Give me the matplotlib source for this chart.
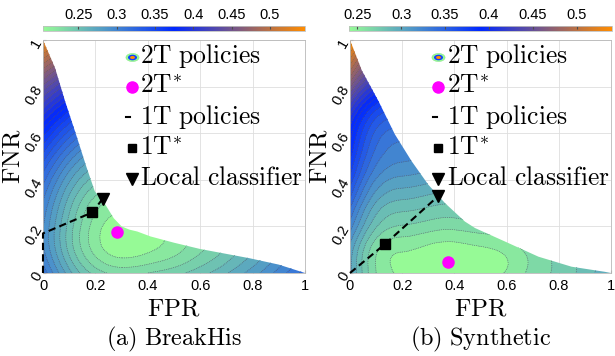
import numpy as np
import matplotlib
matplotlib.use('Agg')
import matplotlib.pyplot as plt
from matplotlib.colors import LinearSegmentedColormap, Normalize
from matplotlib.patches import Polygon
from matplotlib.path import Path
from matplotlib.cm import ScalarMappable
import matplotlib.tri as mtri

plt.rcParams['mathtext.fontset'] = 'cm'
plt.rcParams['font.family'] = ['Liberation Sans', 'DejaVu Sans']

# ---------------- data ----------------
grid_fpr = [0.0, 0.1, 0.2, 0.3, 0.4, 0.5, 0.6, 0.7, 0.8, 0.9, 1.0]
grid_fnr = [0.0, 0.1, 0.2, 0.3, 0.4, 0.5, 0.6, 0.7, 0.8, 0.9, 1.0]

# expected cost of 2T policies, rows = FNR, columns = FPR
cost_a = [
    [0.312, 0.269, 0.241, 0.232, 0.235, 0.241, 0.251, 0.264, 0.280, 0.299, 0.320],
    [0.297, 0.252, 0.221, 0.209, 0.213, 0.221, 0.233, 0.247, 0.264, 0.284, 0.305],
    [0.296, 0.251, 0.220, 0.208, 0.211, 0.220, 0.231, 0.246, 0.263, 0.283, 0.304],
    [0.304, 0.260, 0.230, 0.221, 0.223, 0.230, 0.241, 0.255, 0.272, 0.291, 0.312],
    [0.319, 0.277, 0.250, 0.241, 0.244, 0.250, 0.259, 0.272, 0.288, 0.306, 0.327],
    [0.341, 0.301, 0.276, 0.268, 0.270, 0.276, 0.284, 0.296, 0.311, 0.329, 0.349],
    [0.369, 0.331, 0.307, 0.300, 0.302, 0.307, 0.316, 0.327, 0.341, 0.357, 0.376],
    [0.403, 0.366, 0.344, 0.338, 0.339, 0.344, 0.352, 0.363, 0.376, 0.392, 0.410],
    [0.442, 0.407, 0.386, 0.380, 0.381, 0.386, 0.393, 0.403, 0.416, 0.431, 0.449],
    [0.486, 0.452, 0.432, 0.426, 0.428, 0.432, 0.439, 0.449, 0.461, 0.476, 0.493],
    [0.535, 0.502, 0.483, 0.477, 0.479, 0.483, 0.489, 0.499, 0.510, 0.524, 0.541],
]
cost_b = [
    [0.303, 0.260, 0.249, 0.245, 0.243, 0.246, 0.251, 0.264, 0.272, 0.285, 0.298],
    [0.306, 0.262, 0.251, 0.247, 0.245, 0.248, 0.253, 0.266, 0.275, 0.288, 0.301],
    [0.325, 0.281, 0.269, 0.265, 0.263, 0.266, 0.271, 0.285, 0.293, 0.307, 0.320],
    [0.345, 0.299, 0.287, 0.283, 0.281, 0.284, 0.289, 0.303, 0.312, 0.326, 0.339],
    [0.366, 0.319, 0.307, 0.303, 0.301, 0.304, 0.310, 0.324, 0.332, 0.346, 0.360],
    [0.382, 0.335, 0.323, 0.318, 0.316, 0.319, 0.325, 0.339, 0.348, 0.362, 0.377],
    [0.395, 0.347, 0.335, 0.330, 0.328, 0.331, 0.337, 0.352, 0.361, 0.375, 0.390],
    [0.419, 0.370, 0.358, 0.353, 0.351, 0.354, 0.360, 0.375, 0.384, 0.399, 0.414],
    [0.461, 0.411, 0.398, 0.393, 0.391, 0.394, 0.400, 0.415, 0.425, 0.440, 0.455],
    [0.502, 0.451, 0.438, 0.433, 0.431, 0.435, 0.440, 0.456, 0.465, 0.481, 0.496],
    [0.543, 0.491, 0.478, 0.473, 0.471, 0.475, 0.481, 0.496, 0.506, 0.521, 0.537],
]

front_a_fpr = [0.0, 0.046, 0.084, 0.126, 0.167, 0.198, 0.229, 0.24, 0.27, 0.30, 0.33, 0.36, 0.41, 0.50, 0.60, 0.70, 0.79, 0.90, 1.0]
front_a_fnr = [1.0, 0.88, 0.738, 0.595, 0.451, 0.35, 0.31, 0.29, 0.235, 0.20, 0.186, 0.178, 0.157, 0.13, 0.103, 0.082, 0.063, 0.036, 0.0]
front_b_fpr = [0.0, 0.045, 0.109, 0.172, 0.236, 0.30, 0.364, 0.44, 0.479, 0.594, 0.722, 0.849, 0.977, 1.0]
front_b_fnr = [1.0, 0.87, 0.738, 0.595, 0.48, 0.379, 0.30, 0.221, 0.193, 0.135, 0.07, 0.027, 0.005, 0.0]

one_t_a_fpr = [0.0, 0.0, 0.188, 0.228]
one_t_a_fnr = [0.0, 0.17, 0.26, 0.319]
one_t_b_fpr = [0.0, 0.135, 0.338]
one_t_b_fnr = [0.0, 0.125, 0.33]

star1_a = (0.188, 0.26); star2_a = (0.281, 0.178); local_a = (0.228, 0.319)
star1_b = (0.135, 0.125); star2_b = (0.374, 0.046); local_b = (0.338, 0.33)

cbar_range_a = (0.204, 0.546)
cbar_range_b = (0.241, 0.540)
cbar_ticks = [0.25, 0.3, 0.35, 0.4, 0.45, 0.5]
cbar_ticklabels = ['0.25', '0.3', '0.35', '0.4', '0.45', '0.5']
axis_ticks = [0, 0.2, 0.4, 0.6, 0.8, 1]
axis_ticklabels = ['0', '0.2', '0.4', '0.6', '0.8', '1']
legend_labels = [r'$\mathrm{2T\ policies}$', r'$\mathrm{2T}^{*}$', r'$\mathrm{1T\ policies}$',
                 r'$\mathrm{1T}^{*}$', r'$\mathrm{Local\ classifier}$']
captions = [r'$\mathrm{(a)\ BreakHis}$', r'$\mathrm{(b)\ Synthetic}$']

# ---------------- drawing ----------------
cmap = LinearSegmentedColormap.from_list('cost', ['#96fa96', '#0028ff', '#ff8c00'])

W, H = 615, 356
fig = plt.figure(figsize=(W / 100, H / 100), dpi=100)


def fr(x0, y0, x1, y1):
    return [x0 / W, 1 - y1 / H, (x1 - x0) / W, (y1 - y0) / H]


uc = Path.unit_circle()
ellipse_path = Path(uc.vertices * np.array([1.0, 0.62]), uc.codes)


def panel(axrect, caxrect, cost, rng, lev0, ffpr, ffnr, lfpr, lfnr, s1, s2, loc, caption):
    ax = fig.add_axes(axrect)
    cax = fig.add_axes(caxrect)
    norm = Normalize(*rng)
    X, Y = np.meshgrid(grid_fpr, grid_fnr)
    tri = mtri.Triangulation(X.ravel(), Y.ravel())
    tri_f, z_f = mtri.UniformTriRefiner(tri).refine_field(np.asarray(cost, float).ravel(), subdiv=3)
    verts = np.column_stack([[0.0] + list(ffpr), [0.0] + list(ffnr)])
    poly = Polygon(verts, closed=True, transform=ax.transData, fc='none', ec='none')
    levels = np.arange(lev0, 0.60, 0.01)
    cf = ax.tricontourf(tri_f, z_f, levels=levels, cmap=cmap, norm=norm, extend='both')
    cf.set_clip_path(poly)
    cl = ax.tricontour(tri_f, z_f, levels=levels, colors='0.35', linewidths=0.5, linestyles=':')
    cl.set_clip_path(poly)
    ax.plot(lfpr, lfnr, color='k', lw=1.5, ls=(0, (3.5, 2)), clip_on=False, zorder=5)
    ax.plot(*s1, 's', color='k', ms=6.5, zorder=6, clip_on=False)
    ax.plot(*s2, 'o', color='#ff00ff', ms=8, zorder=6)
    ax.plot(*loc, 'v', color='k', ms=8, zorder=6)
    ax.set_xlim(0, 1); ax.set_ylim(0, 1)
    ax.set_xticks(axis_ticks); ax.set_xticklabels(axis_ticklabels)
    ax.set_yticks(axis_ticks)
    ax.set_yticklabels(axis_ticklabels, rotation=60, rotation_mode='anchor', ha='right', va='center')
    ax.tick_params(direction='in', length=2, labelsize=10.5, color='0.6')
    ax.tick_params(axis='x', pad=4.5)
    ax.tick_params(axis='y', pad=3)
    ax.grid(True, color='0.87', lw=0.6)
    ax.set_axisbelow(True)
    for s in ax.spines.values():
        s.set_color('0.72'); s.set_linewidth(0.6)
    ax.set_xlabel(r'$\mathrm{FPR}$', fontsize=18, va='baseline')
    ax.xaxis.set_label_coords(0.5, -0.184)
    ax.set_ylabel(r'$\mathrm{FNR}$', fontsize=18)
    ax.yaxis.set_label_coords(-0.069, 0.5)
    ax.text(0.5, -0.313, caption, transform=ax.transAxes, ha='center', va='baseline', fontsize=17.5)
    # legend, drawn entry by entry
    mx = 0.338; tx = 0.372
    rows_y = [0.929, 0.800, 0.668, 0.535, 0.405]
    base_y = [0.903, 0.771, 0.638, 0.506, 0.377]
    kw = dict(transform=ax.transAxes, clip_on=False, zorder=7)
    ax.plot(mx, rows_y[0], marker=ellipse_path, ms=9.5, color='#96fa96', mec='#80e080', mew=0.3, **kw)
    ax.plot(mx, rows_y[0], marker=ellipse_path, ms=6.5, color='#1040ff', mew=0, **kw)
    ax.plot(mx, rows_y[0], marker=ellipse_path, ms=3.5, color='#ff8c00', mew=0, **kw)
    ax.plot(mx, rows_y[1], 'o', ms=8, color='#ff00ff', **kw)
    ax.plot([mx - 0.02, mx - 0.005], [rows_y[2]] * 2, color='k', lw=1.5, **kw)
    ax.plot(mx, rows_y[3], 's', ms=6, color='k', **kw)
    ax.plot(mx, rows_y[4], 'v', ms=8, color='k', **kw)
    for lab, by in zip(legend_labels, base_y):
        ax.text(tx, by, lab, transform=ax.transAxes, ha='left', va='baseline', fontsize=18.4, zorder=8)
    # colorbar
    cb = fig.colorbar(ScalarMappable(norm=norm, cmap=cmap), cax=cax, orientation='horizontal', ticks=cbar_ticks)
    cax.xaxis.set_ticks_position('top')
    cax.set_xticklabels(cbar_ticklabels)
    cax.tick_params(direction='in', length=2, labelsize=10.5, pad=3, color='0.3')
    cb.outline.set_edgecolor('0.75'); cb.outline.set_linewidth(0.6)
    return ax


panel(fr(43, 40, 305, 273), fr(43.3, 26, 305, 31), cost_a, cbar_range_a, 0.215, front_a_fpr, front_a_fnr,
      one_t_a_fpr, one_t_a_fnr, star1_a, star2_a, local_a, captions[0])
panel(fr(350, 40, 611, 273), fr(349.3, 26, 611.7, 31), cost_b, cbar_range_b, 0.25, front_b_fpr, front_b_fnr,
      one_t_b_fpr, one_t_b_fnr, star1_b, star2_b, local_b, captions[1])

fig.savefig('out.png', dpi=100)
